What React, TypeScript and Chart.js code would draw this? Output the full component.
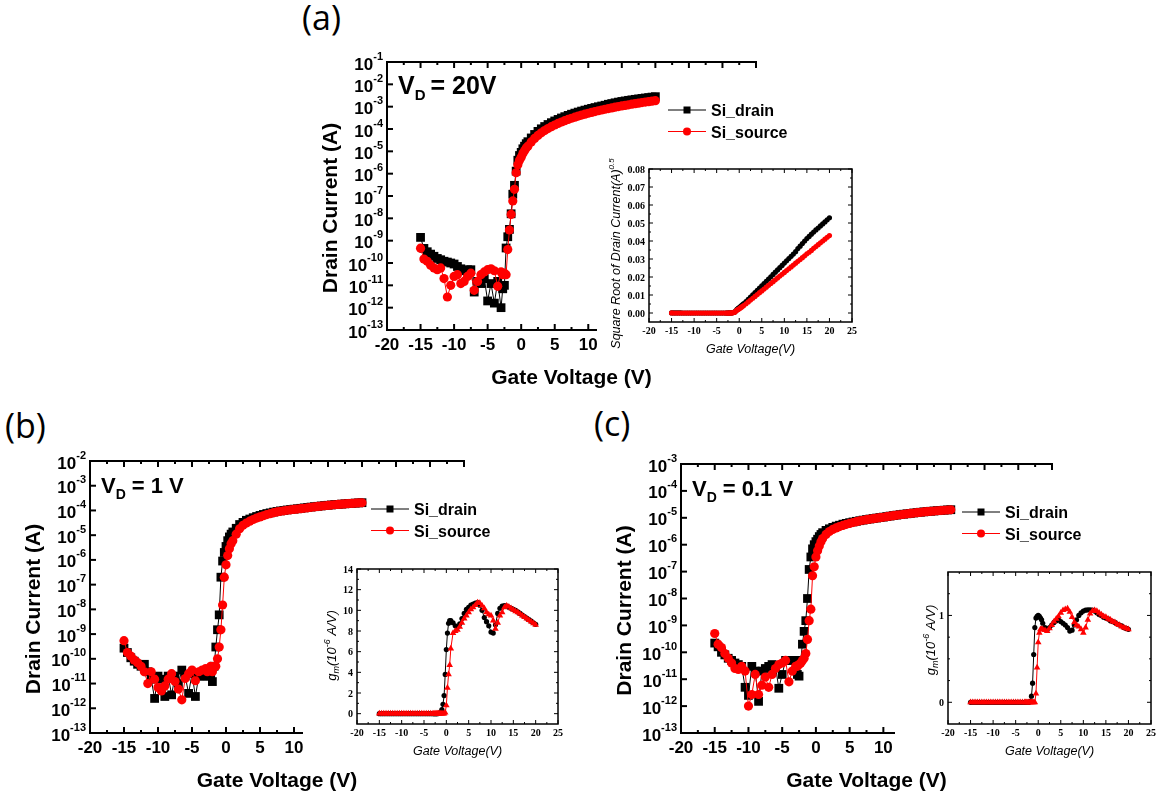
import { useEffect, useRef } from 'react';
import { Chart, registerables } from 'chart.js';

Chart.register(...registerables);

// ---------- measured data ----------
// Gate sweep (V), shared by every curve
const VG = [
  -15, -14.5, -14, -13.5, -13, -12.5, -12, -11.5, -11, -10.5, -10, -9.5, -9, -8.5, -8, -7.5, -7, -6.5, -6, -5.5, -5, -4.5, -4, -3.5, -3,
  -2.75, -2.5, -2.25, -2, -1.75, -1.5, -1.25, -1, -0.75, -0.5, -0.25, 0, 0.25, 0.5, 0.75, 1,
  1.5, 2, 2.5, 3, 3.5, 4, 4.5, 5, 5.5, 6, 6.5, 7, 7.5, 8, 8.5, 9, 9.5, 10, 10.5, 11, 11.5, 12, 12.5, 13, 13.5, 14, 14.5, 15, 15.5, 16, 16.5, 17, 17.5, 18, 18.5, 19, 19.5, 20,
];

// Drain current (A), VD = 20 V
const DRAIN_20V = [
  1.4e-9, 4.5e-10, 3.2e-10, 2.5e-10, 2e-10, 1.6e-10, 1.4e-10, 1.2e-10, 1.1e-10, 1e-10, 9e-11, 7e-11, 5.5e-11, 4.5e-11, 5e-11, 5e-11, 5e-12, 1.5e-11, 1.2e-11, 2e-11, 2e-12, 1.2e-11, 1.6e-12, 1.5e-11, 1e-12,
  7e-12, 1e-11, 4.7e-10, 1.5e-9, 3.2e-9, 1.6e-8, 1.2e-7, 3e-7, 1.3e-6, 4e-6, 6.5e-6, 9e-6, 1.3e-5, 1.7e-5, 2.2e-5, 2.7e-5,
  3.97e-5, 5.7e-5, 7.8e-5, 1.02e-4, 1.29e-4, 1.59e-4, 1.92e-4, 2.29e-4, 2.68e-4, 3.11e-4, 3.57e-4, 4.06e-4, 4.59e-4, 5.14e-4, 5.73e-4, 6.35e-4, 7.0e-4, 7.68e-4, 8.4e-4, 9.14e-4, 9.92e-4, 1.07e-3, 1.16e-3, 1.28e-3, 1.38e-3, 1.49e-3, 1.6e-3, 1.71e-3, 1.81e-3, 1.92e-3, 2.02e-3, 2.13e-3, 2.23e-3, 2.34e-3, 2.45e-3, 2.56e-3, 2.68e-3, 2.8e-3,
];
const SOURCE_20V = [
  4.6e-10, 1.5e-10, 1.2e-10, 8e-11, 6e-11, 5e-11, 6e-11, 2e-11, 3e-12, 1e-11, 2.5e-11, 3e-11, 1.2e-11, 1.5e-11, 2.5e-11, 3.5e-11, 6e-12, 1.5e-11, 3e-11, 4e-11, 5e-11, 5.5e-11, 4.5e-11, 9e-12, 4e-11,
  3e-11, 3.5e-11, 3e-11, 4e-10, 3e-9, 1.5e-8, 6e-8, 2e-7, 1.1e-6, 2.5e-6, 4e-6, 5.5e-6, 8e-6, 1.05e-5, 1.4e-5, 1.7e-5,
  2.63e-5, 3.78e-5, 5.15e-5, 6.72e-5, 8.5e-5, 1.05e-4, 1.27e-4, 1.51e-4, 1.77e-4, 2.06e-4, 2.36e-4, 2.69e-4, 3.03e-4, 3.4e-4, 3.79e-4, 4.2e-4, 4.63e-4, 5.08e-4, 5.55e-4, 6.05e-4, 6.56e-4, 7.1e-4, 7.65e-4, 8.23e-4, 8.83e-4, 9.45e-4, 1.01e-3, 1.08e-3, 1.14e-3, 1.21e-3, 1.29e-3, 1.36e-3, 1.44e-3, 1.52e-3, 1.6e-3, 1.68e-3, 1.77e-3, 1.85e-3,
];

// Drain current (A), VD = 1 V
const DRAIN_1V = [
  2.7e-10, 1.8e-10, 1.1e-10, 8e-11, 6e-11, 5e-11, 6e-11, 3e-11, 1.5e-11, 2.5e-12, 2e-11, 1.5e-11, 3e-12, 2e-11, 3.5e-12, 2e-11, 1e-11, 3.5e-11, 2e-11, 4e-12, 2.5e-11, 3e-12, 2e-11, 2e-11, 2.5e-11,
  2e-11, 3e-11, 2e-11, 1.2e-11, 5e-11, 3e-10, 1.5e-9, 6e-9, 2e-7, 9e-7, 2e-6, 3.5e-6, 6e-6, 8.5e-6, 1.1e-5, 1.35e-5,
  1.9e-5, 2.7e-5, 3.3e-5, 4e-5, 4.5e-5, 5.1e-5, 5.7e-5, 6.3e-5, 6.9e-5, 7.5e-5, 8e-5, 8.6e-5, 9.1e-5, 9.6e-5, 1.0e-4, 1.05e-4, 1.09e-4, 1.13e-4, 1.17e-4, 1.22e-4, 1.27e-4, 1.32e-4, 1.37e-4, 1.42e-4, 1.47e-4, 1.52e-4, 1.57e-4, 1.62e-4, 1.67e-4, 1.72e-4, 1.76e-4, 1.81e-4, 1.85e-4, 1.9e-4, 1.94e-4, 1.98e-4, 2.02e-4, 2.06e-4,
];
const SOURCE_1V = [
  5.4e-10, 1.8e-10, 1.3e-10, 9e-11, 7e-11, 5e-11, 3e-11, 1e-11, 3e-11, 1.5e-11, 7e-12, 5e-12, 8e-12, 1.5e-11, 2.5e-11, 1.2e-11, 6e-12, 2.2e-12, 1.6e-11, 2.5e-11, 3.5e-11, 1.3e-11, 3e-11, 3.5e-11, 4e-11,
  3e-11, 4e-11, 5e-11, 3e-11, 5e-11, 5e-11, 1e-10, 3e-10, 1.5e-9, 1.5e-8, 2e-7, 6.3e-7, 1.5e-6, 2.8e-6, 4.5e-6, 6e-6,
  1.1e-5, 1.8e-5, 2.5e-5, 3.1e-5, 3.7e-5, 4.3e-5, 4.9e-5, 5.5e-5, 6.1e-5, 6.8e-5, 7.4e-5, 8.1e-5, 8.7e-5, 9.2e-5, 9.7e-5, 1.02e-4, 1.06e-4, 1.1e-4, 1.14e-4, 1.18e-4, 1.23e-4, 1.28e-4, 1.34e-4, 1.39e-4, 1.45e-4, 1.5e-4, 1.55e-4, 1.6e-4, 1.65e-4, 1.7e-4, 1.75e-4, 1.8e-4, 1.84e-4, 1.89e-4, 1.93e-4, 1.97e-4, 2.01e-4, 2.05e-4,
];

// Drain current (A), VD = 0.1 V
const DRAIN_01V = [
  2.2e-10, 1.6e-10, 1e-10, 8e-11, 6e-11, 5e-11, 4e-11, 3.5e-11, 3e-11, 5e-12, 2.5e-12, 3e-11, 2e-11, 1.5e-12, 2e-11, 2.5e-11, 3e-11, 3.5e-11, 3e-11, 4.6e-12, 1.5e-11, 5e-11, 5e-11, 5e-11, 5e-11,
  1.5e-11, 1.3e-11, 5e-11, 2e-10, 6e-10, 1.5e-9, 1e-8, 1.2e-7, 3.5e-7, 7e-7, 1e-6, 1.3e-6, 1.6e-6, 2e-6, 2.4e-6, 2.8e-6,
  3.4e-6, 3.9e-6, 4.4e-6, 4.9e-6, 5.3e-6, 5.8e-6, 6.2e-6, 6.6e-6, 7.0e-6, 7.4e-6, 7.8e-6, 8.2e-6, 8.6e-6, 9.0e-6, 9.4e-6, 9.8e-6, 1.02e-5, 1.06e-5, 1.11e-5, 1.16e-5, 1.21e-5, 1.26e-5, 1.31e-5, 1.36e-5, 1.41e-5, 1.46e-5, 1.51e-5, 1.56e-5, 1.61e-5, 1.66e-5, 1.71e-5, 1.75e-5, 1.79e-5, 1.84e-5, 1.88e-5, 1.92e-5, 1.96e-5, 2.0e-5,
];
const SOURCE_01V = [
  5e-10, 2e-10, 1.5e-10, 9e-11, 6e-11, 4e-11, 2.5e-11, 2.3e-11, 3e-11, 2e-11, 1e-12, 2.7e-12, 1.5e-11, 2.7e-12, 6e-12, 1.2e-11, 5e-12, 1.5e-11, 2.5e-11, 3.5e-11, 4e-11, 5e-11, 8e-12, 2e-11, 3e-11,
  3e-11, 3.5e-11, 4e-11, 5e-11, 6e-11, 9e-11, 3e-10, 1.5e-9, 4e-9, 7e-8, 1.5e-7, 3.5e-7, 6e-7, 9e-7, 1.3e-6, 1.7e-6,
  2.4e-6, 3.1e-6, 3.7e-6, 4.2e-6, 4.7e-6, 5.2e-6, 5.7e-6, 6.2e-6, 6.7e-6, 7.2e-6, 7.7e-6, 8.1e-6, 8.5e-6, 8.9e-6, 9.3e-6, 9.7e-6, 1.01e-5, 1.05e-5, 1.1e-5, 1.15e-5, 1.2e-5, 1.25e-5, 1.3e-5, 1.35e-5, 1.4e-5, 1.45e-5, 1.5e-5, 1.55e-5, 1.6e-5, 1.65e-5, 1.7e-5, 1.74e-5, 1.78e-5, 1.83e-5, 1.87e-5, 1.91e-5, 1.95e-5, 1.99e-5,
];

// Transconductance (1e-6 A/V), VD = 1 V
const GM_DRAIN_1V = [
  0, 0, 0, 0, 0, 0, 0, 0, 0, 0, 0, 0, 0, 0, 0, 0, 0, 0, 0, 0, 0, 0, 0, 0, 0,
  0, 0, 0, 0, 0.02, 0.05, 0.15, 0.4, 0.9, 1.75, 3.8, 6.2, 7.8, 8.75, 9.0, 9.0,
  8.8, 8.5, 8.4, 8.7, 9.2, 9.7, 10.1, 10.3, 10.5, 10.6, 10.7, 10.75, 10.5, 10.0, 9.3, 8.9, 8.5, 7.9, 7.8, 8.6, 9.7, 10.2, 10.4, 10.45, 10.4, 10.3, 10.2, 10.1, 10.0, 9.85, 9.7, 9.55, 9.4, 9.25, 9.1, 8.95, 8.8, 8.65,
];
const GM_SOURCE_1V = [
  0, 0, 0, 0, 0, 0, 0, 0, 0, 0, 0, 0, 0, 0, 0, 0, 0, 0, 0, 0, 0, 0, 0, 0, 0,
  0, 0, 0, 0, 0, 0, 0, 0, 0, 0, 0.1, 0.8, 2.5, 3.8, 4.7, 6.3,
  7.8, 8.0, 8.1, 8.4, 8.8, 9.2, 9.5, 9.8, 10.1, 10.3, 10.5, 10.75, 10.7, 10.45, 10.2, 9.8, 9.6, 9.5, 9.0, 8.2, 8.8, 9.5, 9.8, 10.3, 10.45, 10.35, 10.2, 10.05, 9.9, 9.8, 9.65, 9.5, 9.35, 9.2, 9.05, 8.9, 8.75, 8.6,
];

// Transconductance (1e-6 A/V), VD = 0.1 V
const GM_DRAIN_01V = [
  0, 0, 0, 0, 0, 0, 0, 0, 0, 0, 0, 0, 0, 0, 0, 0, 0, 0, 0, 0, 0, 0, 0, 0, 0,
  0, 0, 0, 0, 0.01, 0.07, 0.22, 0.55, 0.86, 0.97, 0.99, 1.0, 0.99, 0.97, 0.95, 0.91,
  0.86, 0.84, 0.86, 0.89, 0.92, 0.94, 0.95, 0.93, 0.91, 0.89, 0.86, 0.82, 0.83, 0.89, 0.95, 1.0, 1.03, 1.05, 1.06, 1.065, 1.065, 1.06, 1.05, 1.03, 1.01, 1.0, 0.98, 0.97, 0.96, 0.94, 0.93, 0.92, 0.9, 0.89, 0.88, 0.86, 0.85, 0.84,
];
const GM_SOURCE_01V = [
  0, 0, 0, 0, 0, 0, 0, 0, 0, 0, 0, 0, 0, 0, 0, 0, 0, 0, 0, 0, 0, 0, 0, 0, 0,
  0, 0, 0, 0, 0, 0, 0, 0, 0, 0.1, 0.4, 0.69, 0.8, 0.84, 0.84, 0.84,
  0.83, 0.82, 0.85, 0.89, 0.93, 0.96, 0.99, 1.03, 1.06, 1.07, 1.08, 1.04, 0.98, 0.92, 0.89, 0.87, 0.84, 0.8, 0.86, 0.95, 1.02, 1.05, 1.06, 1.05, 1.03, 1.01, 0.99, 0.98, 0.96, 0.95, 0.93, 0.92, 0.9, 0.89, 0.87, 0.86, 0.85, 0.84,
];

// ---------- axis ticks ----------
const X_MAJOR_MAIN = [-20, -15, -10, -5, 0, 5, 10, 15, 20, 25, 30, 35];
const X_MINOR_MAIN = [-17.5, -12.5, -7.5, -2.5, 2.5, 7.5, 12.5, 17.5, 22.5, 27.5, 32.5];
const X_MAJOR_INSET = [-20, -15, -10, -5, 0, 5, 10, 15, 20, 25];
const X_MINOR_INSET = [-17.5, -12.5, -7.5, -2.5, 2.5, 7.5, 12.5, 17.5, 22.5];
const DECADES_20V = [-13, -12, -11, -10, -9, -8, -7, -6, -5, -4, -3, -2, -1];
const DECADES_1V = [-13, -12, -11, -10, -9, -8, -7, -6, -5, -4, -3, -2];
const DECADES_01V = [-13, -12, -11, -10, -9, -8, -7, -6, -5, -4, -3];
const SQRT_MAJOR = [0, 0.01, 0.02, 0.03, 0.04, 0.05, 0.06, 0.07, 0.08];
const SQRT_MINOR = [0.005, 0.015, 0.025, 0.035, 0.045, 0.055, 0.065, 0.075];
const GM1_MAJOR = [0, 2, 4, 6, 8, 10, 12, 14];
const GM1_MINOR = [1, 3, 5, 7, 9, 11, 13];
const GM01_MAJOR = [0, 1];
const GM01_MINOR = [0.25, 0.5, 0.75, 1.25];

// ---------- drawing helpers ----------
const INK = '#000000';
const RED = '#ff0000';
const SANS = '"Liberation Sans", Arial, sans-serif';
const SERIF = '"Liberation Serif", "Times New Roman", serif';

type Seg = { t: string; size: number; bold?: boolean; italic?: boolean; serif?: boolean; dy?: number; gap?: number };

const fontOf = (s: Seg) =>
  `${s.italic ? 'italic ' : ''}${s.bold ? 'bold ' : ''}${s.size}px ${s.serif ? SERIF : SANS}`;

function drawText(ctx: CanvasRenderingContext2D, segs: Seg[], x: number, y: number, align: 'left' | 'center' | 'right', angle = 0) {
  ctx.save();
  ctx.translate(x, y);
  if (angle) ctx.rotate(angle);
  ctx.textAlign = 'left';
  ctx.textBaseline = 'alphabetic';
  ctx.fillStyle = INK;
  const widths = segs.map((s) => {
    ctx.font = fontOf(s);
    return ctx.measureText(s.t).width + (s.gap ?? 0);
  });
  const total = widths.reduce((p, w) => p + w, 0);
  let cx = align === 'left' ? 0 : align === 'center' ? -total / 2 : -total;
  segs.forEach((s, i) => {
    ctx.font = fontOf(s);
    ctx.fillText(s.t, cx + (s.gap ?? 0), s.dy ?? 0);
    cx += widths[i];
  });
  ctx.restore();
}

function seg(ctx: CanvasRenderingContext2D, x1: number, y1: number, x2: number, y2: number) {
  ctx.beginPath();
  ctx.moveTo(x1, y1);
  ctx.lineTo(x2, y2);
  ctx.stroke();
}

type MainSpec = { decades: number[]; vd: string; vdSize: number; vdSub: number; vdGap: number };

// Axes, labels, annotation and legend of a transfer-curve panel
function mainFrame(spec: MainSpec) {
  return {
    id: 'mainFrame',
    afterDraw(chart: any) {
      const ctx: CanvasRenderingContext2D = chart.ctx;
      const a = chart.chartArea;
      const xs = chart.scales.x;
      const ys = chart.scales.y;
      ctx.save();
      ctx.strokeStyle = INK;
      ctx.lineWidth = 2;
      ctx.lineCap = 'square';
      ctx.beginPath();
      ctx.moveTo(a.right, a.top);
      ctx.lineTo(a.left, a.top);
      ctx.lineTo(a.left, a.bottom);
      ctx.lineTo(a.right, a.bottom);
      ctx.stroke();
      ctx.lineCap = 'butt';
      for (const v of X_MAJOR_MAIN) {
        const x = xs.getPixelForValue(v);
        seg(ctx, x, a.bottom, x, a.bottom - 6);
        seg(ctx, x, a.top, x, a.top + 6);
      }
      for (const v of X_MINOR_MAIN) {
        const x = xs.getPixelForValue(v);
        seg(ctx, x, a.bottom, x, a.bottom - 3);
        seg(ctx, x, a.top, x, a.top + 3);
      }
      for (const d of spec.decades) {
        const y = ys.getPixelForValue(Math.pow(10, d));
        seg(ctx, a.left, y, a.left + 6, y);
      }
      for (const v of X_MAJOR_MAIN) {
        drawText(ctx, [{ t: String(v), size: 17, bold: true }], xs.getPixelForValue(v), a.bottom + 20, 'center');
      }
      for (const d of spec.decades) {
        const y = ys.getPixelForValue(Math.pow(10, d));
        drawText(ctx, [{ t: '10', size: 17, bold: true }, { t: String(d), size: 11, bold: true, dy: -10 }], a.left - 4, y + 7.5, 'right');
      }
      drawText(ctx, [{ t: 'Gate Voltage (V)', size: 21, bold: true }], (a.left + a.right) / 2, a.bottom + 54, 'center');
      drawText(ctx, [{ t: 'Drain Current (A)', size: 21, bold: true }], a.left - 50, (a.top + a.bottom) / 2 + 12, 'center', -Math.PI / 2);
      drawText(
        ctx,
        [
          { t: 'V', size: spec.vdSize, bold: true },
          { t: 'D', size: spec.vdSub, bold: true, dy: 6 },
          { t: spec.vd, size: spec.vdSize, bold: true, gap: spec.vdGap },
        ],
        a.left + 11,
        a.top + 32,
        'left',
      );
      // legend
      chart.data.datasets.forEach((ds: any, i: number) => {
        const y = a.top + 48 + i * 21.5;
        const x0 = a.left + 281;
        ctx.strokeStyle = ds.borderColor;
        ctx.fillStyle = ds.pointBackgroundColor;
        ctx.lineWidth = 1;
        seg(ctx, x0, y, x0 + 38, y);
        if (ds.pointStyle === 'rect') ctx.fillRect(x0 + 15.5, y - 3.5, 7, 7);
        else {
          ctx.beginPath();
          ctx.arc(x0 + 19, y, 4, 0, Math.PI * 2);
          ctx.fill();
        }
        drawText(ctx, [{ t: ds.label, size: 16, bold: true }], x0 + 43, y + 6, 'left');
      });
      ctx.restore();
    },
  };
}

type InsetSpec = {
  yMajor: number[];
  yMinor: number[];
  fmt: (v: number) => string;
  title: Seg[];
  titleDX: number;
  titleDY: number;
};

// Boxed frame, ticks and labels of an inset
function insetFrame(spec: InsetSpec) {
  return {
    id: 'insetFrame',
    afterDraw(chart: any) {
      const ctx: CanvasRenderingContext2D = chart.ctx;
      const a = chart.chartArea;
      const xs = chart.scales.x;
      const ys = chart.scales.y;
      ctx.save();
      ctx.strokeStyle = INK;
      ctx.lineWidth = 1.5;
      ctx.strokeRect(a.left, a.top, a.right - a.left, a.bottom - a.top);
      ctx.lineWidth = 1;
      const xt = (v: number, len: number) => {
        const x = xs.getPixelForValue(v);
        seg(ctx, x, a.bottom, x, a.bottom - len);
        seg(ctx, x, a.top, x, a.top + len);
      };
      const yt = (v: number, len: number) => {
        const y = ys.getPixelForValue(v);
        seg(ctx, a.left, y, a.left + len, y);
        seg(ctx, a.right, y, a.right - len, y);
      };
      X_MAJOR_INSET.forEach((v) => xt(v, 4));
      X_MINOR_INSET.forEach((v) => xt(v, 2));
      spec.yMajor.forEach((v) => yt(v, 4));
      spec.yMinor.forEach((v) => yt(v, 2));
      for (const v of X_MAJOR_INSET) {
        drawText(ctx, [{ t: String(v), size: 10, bold: true, serif: true }], xs.getPixelForValue(v), a.bottom + 12, 'center');
      }
      for (const v of spec.yMajor) {
        drawText(ctx, [{ t: spec.fmt(v), size: 10, bold: true, serif: true }], a.left - 4, ys.getPixelForValue(v) + 3.5, 'right');
      }
      drawText(ctx, [{ t: 'Gate Voltage(V)', size: 12.5, italic: true }], (a.left + a.right) / 2, a.bottom + 31, 'center');
      drawText(ctx, spec.title, a.left + spec.titleDX, (a.top + a.bottom) / 2 + spec.titleDY, 'center', -Math.PI / 2);
      ctx.restore();
    },
  };
}

const xy = (ys: number[]) => VG.map((v, i) => ({ x: v, y: ys[i] }));

const base = (pad: any) => ({
  responsive: false,
  animation: false,
  devicePixelRatio: 1,
  events: [],
  layout: { padding: pad },
  elements: { line: { tension: 0 } },
  plugins: { legend: { display: false }, tooltip: { enabled: false } },
});

function transferConfig(drain: number[], source: number[], yMax: number, pad: any, spec: MainSpec) {
  return {
    type: 'line',
    data: {
      datasets: [
        { label: 'Si_drain', data: xy(drain), borderColor: INK, borderWidth: 1, pointStyle: 'rect', pointRadius: 6.2, pointBorderWidth: 0, pointBackgroundColor: INK, order: 1 },
        { label: 'Si_source', data: xy(source), borderColor: RED, borderWidth: 1, pointStyle: 'circle', pointRadius: 4.6, pointBorderWidth: 0, pointBackgroundColor: RED, order: 0 },
      ],
    },
    options: {
      ...base(pad),
      scales: {
        x: { type: 'linear', min: -20, max: 35, display: false },
        y: { type: 'logarithmic', min: 1e-13, max: yMax, display: false },
      },
    },
    plugins: [mainFrame(spec)],
  };
}

function insetConfig(drain: number[], source: number[], redStyle: string, yMin: number, yMax: number, pad: any, spec: InsetSpec) {
  return {
    type: 'line',
    data: {
      datasets: [
        { label: 'Si_drain', data: xy(drain), borderColor: INK, borderWidth: 1, pointStyle: 'circle', pointRadius: 2.6, pointBorderWidth: 0, pointBackgroundColor: INK, order: 1 },
        { label: 'Si_source', data: xy(source), borderColor: RED, borderWidth: 1, pointStyle: redStyle, pointRadius: redStyle === 'triangle' ? 3.8 : 2.6, pointBorderWidth: 0, pointBackgroundColor: RED, order: 0 },
      ],
    },
    options: {
      ...base(pad),
      scales: {
        x: { type: 'linear', min: -20, max: 25, display: false },
        y: { type: 'linear', min: yMin, max: yMax, display: false },
      },
    },
    plugins: [insetFrame(spec)],
  };
}

const GM_TITLE: Seg[] = [
  { t: 'g', size: 13, italic: true },
  { t: 'm', size: 9, italic: true, dy: 3 },
  { t: '(10', size: 13, italic: true },
  { t: '-6', size: 9, italic: true, dy: -6 },
  { t: ' A/V)', size: 13, italic: true },
];

const PLOTS = [
  {
    key: 'a', x: 300, y: 40, w: 560, h: 360, cover: false,
    make: () => transferConfig(DRAIN_20V, SOURCE_20V, 1e-1, { left: 87, top: 22, right: 104, bottom: 70 },
      { decades: DECADES_20V, vd: '= 20V', vdSize: 25, vdSub: 15, vdGap: 5 }),
  },
  {
    key: 'b', x: 0, y: 440, w: 575, h: 358, cover: false,
    make: () => transferConfig(DRAIN_1V, SOURCE_1V, 1e-2, { left: 90, top: 21, right: 111, bottom: 65 },
      { decades: DECADES_1V, vd: '= 1 V', vdSize: 22, vdSub: 14, vdGap: 6 }),
  },
  {
    key: 'c', x: 590, y: 440, w: 568, h: 358, cover: false,
    make: () => transferConfig(DRAIN_01V, SOURCE_01V, 1e-3, { left: 91, top: 24, right: 106, bottom: 65 },
      { decades: DECADES_01V, vd: '= 0.1 V', vdSize: 22, vdSub: 14, vdGap: 6 }),
  },
  {
    key: 'ai', x: 597, y: 150, w: 273, h: 208, cover: true,
    make: () => insetConfig(DRAIN_20V.map(Math.sqrt), SOURCE_20V.map(Math.sqrt), 'circle', -0.005, 0.08,
      { left: 52, top: 19, right: 18, bottom: 36 },
      {
        yMajor: SQRT_MAJOR, yMinor: SQRT_MINOR, fmt: (v) => v.toFixed(2),
        title: [{ t: 'Square Root of Drain Current(A)', size: 12.5, italic: true }, { t: '0.5', size: 8, italic: true, dy: -6 }],
        titleDX: -29, titleDY: 8,
      }),
  },
  {
    key: 'bi', x: 303, y: 555, w: 272, h: 207, cover: true,
    make: () => insetConfig(GM_DRAIN_1V, GM_SOURCE_1V, 'triangle', -1, 14,
      { left: 54, top: 14, right: 17, bottom: 38 },
      { yMajor: GM1_MAJOR, yMinor: GM1_MINOR, fmt: (v) => String(v), title: GM_TITLE, titleDX: -21, titleDY: -1 }),
  },
  {
    key: 'ci', x: 895, y: 555, w: 263, h: 207, cover: true,
    make: () => insetConfig(GM_DRAIN_01V, GM_SOURCE_01V, 'triangle', -0.25, 1.5,
      { left: 53, top: 17, right: 7, bottom: 38 },
      { yMajor: GM01_MAJOR, yMinor: GM01_MINOR, fmt: (v) => String(v), title: GM_TITLE, titleDX: -13, titleDY: -8 }),
  },
];

const PANEL_TAGS = [
  { t: '(a)', x: 302, y: 0 },
  { t: '(b)', x: 5, y: 408 },
  { t: '(c)', x: 594, y: 406 },
];

function Plot({ x, y, w, h, cover, make }: any) {
  const ref = useRef<HTMLCanvasElement>(null);
  useEffect(() => {
    const chart = new Chart(ref.current as HTMLCanvasElement, make() as any);
    return () => chart.destroy();
  }, [make]);
  return (
    <canvas
      ref={ref}
      width={w}
      height={h}
      style={{ position: 'absolute', left: x, top: y, width: w, height: h, background: cover ? '#ffffff' : 'transparent' }}
    />
  );
}

export default function App() {
  return (
    <div style={{ position: 'fixed', left: 0, top: 0, width: 1158, height: 798, background: '#ffffff', overflow: 'hidden' }}>
      {PANEL_TAGS.map((p) => (
        <div key={p.t} style={{ position: 'absolute', left: p.x, top: p.y, font: '34px "Open Sans", sans-serif', lineHeight: '34px', color: INK }}>
          {p.t}
        </div>
      ))}
      {PLOTS.map((p) => (
        <Plot key={p.key} {...p} />
      ))}
    </div>
  );
}
